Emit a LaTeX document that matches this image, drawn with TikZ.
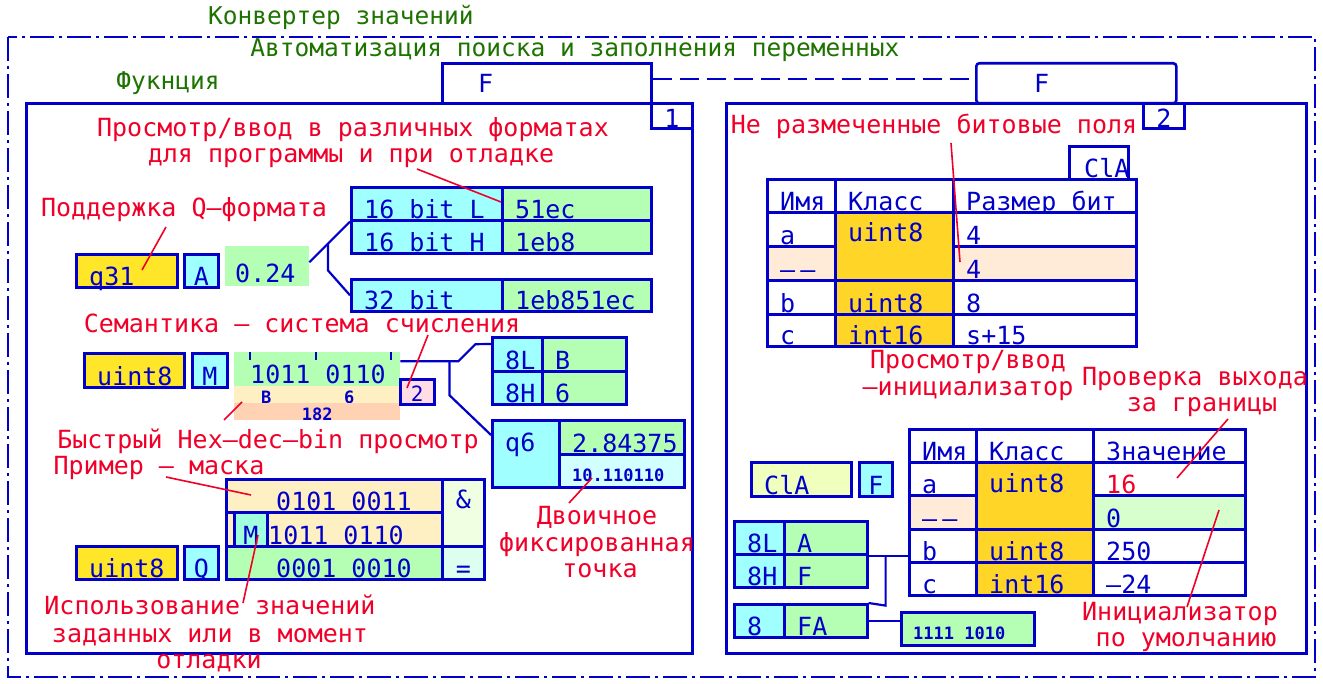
\documentclass[tikz,border=0pt]{standalone}
\usepackage{fontspec}
\newfontfamily\cadfont{DejaVu Sans Mono}
\usetikzlibrary{calc}

\definecolor{lblue}{RGB}{0,0,200}
\definecolor{lred}{RGB}{240,0,40}
\definecolor{lgreen}{RGB}{30,115,0}
\definecolor{cyanf}{RGB}{160,255,255}
\definecolor{greenf}{RGB}{180,255,180}
\definecolor{yellowf}{RGB}{255,230,40}
\definecolor{classf}{RGB}{255,213,40}
\definecolor{creamf}{RGB}{255,240,195}
\definecolor{salmonf}{RGB}{255,210,180}
\definecolor{pinkf}{RGB}{255,220,230}
\definecolor{peachf}{RGB}{255,235,215}
\definecolor{lcyanf}{RGB}{210,255,255}
\definecolor{limef}{RGB}{240,255,190}
\definecolor{mintf}{RGB}{160,255,220}
\definecolor{andf}{RGB}{240,255,225}
\definecolor{eqf}{RGB}{220,255,240}
\definecolor{zerof}{RGB}{215,255,205}

\newcommand{\tfont}{\cadfont\fontsize{25}{30}\selectfont}
\newcommand{\gfont}{\cadfont\fontsize{24.5}{29}\selectfont}
\newcommand{\sfont}{\cadfont\bfseries\fontsize{17}{20}\selectfont}
\newcommand{\mfont}{\cadfont\fontsize{21}{25}\selectfont}

\begin{document}
\begin{tikzpicture}[x=1pt, y=-1pt,
    outerframe/.style={draw=lblue, line width=2.6pt, dash pattern=on 24pt off 5pt on 3pt off 5pt},
    panel/.style={draw=lblue, line width=2.6pt, anchor=north west, inner sep=0pt},
    cell/.style={draw=lblue, line width=2.6pt, fill=#1, anchor=north west, inner sep=0pt},
    cell/.default=white,
    band/.style={fill=#1, draw=none, anchor=north west, inner sep=0pt},
    lt/.style={font=\tfont, text=lblue, inner sep=0pt},
    st/.style={font=\sfont, text=lblue, inner sep=0pt},
    tl/.style={label={[lt, anchor=base west, xshift=14pt, yshift=3pt]south west:#1}},
    tc/.style={label={[lt, anchor=base, yshift=3pt]south:#1}},
    tt/.style={label={[lt, anchor=base west, xshift=14pt, yshift=-31pt]north west:#1}},
    rtxt/.style={font=\tfont, text=lred, anchor=base, inner sep=0pt},
    gtxt/.style={font=\gfont, text=lgreen, anchor=base, inner sep=0pt},
    conn/.style={draw=lblue, line width=2.2pt},
    binmark/.style={draw=lblue, line width=2pt},
    lead/.style={draw=lred, line width=1.6pt},
]

\fill[white] (0,0) rectangle (1323,684);
\useasboundingbox (0,0) rectangle (1323,684);

% Frame and titles
\draw[outerframe] (8,37) rectangle (1315,677);
\node[gtxt] (title) at (341,25) {Конвертер значений};
\node[gtxt] (subtitle) at (575,57) {Автоматизация поиска и заполнения переменных};
\node[gtxt] (funcname) at (168,90) {Фукнция};

% Panels with tabs
\node[panel, minimum width=666, minimum height=550] (panA) at (25,102) {};
\node[panel, minimum width=580, minimum height=550] (panB) at (725,102) {};
\node[cell, minimum width=209, minimum height=40,
      label={[lt, anchor=base west, xshift=37pt, yshift=12pt]south west:F}] (tabA) at (441,62) {};
\node[cell, rounded corners=3pt, minimum width=200, minimum height=40,
      label={[lt, anchor=base west, xshift=59pt, yshift=12pt]south west:F}] (tabB) at (975,62) {};
\node[cell, minimum width=41, minimum height=25, label={[lt, anchor=base, yshift=2pt]south:1}] (numA) at (650,102) {};
\node[cell, minimum width=41, minimum height=25, label={[lt, anchor=base, yshift=2pt]south:2}] (numB) at (1142,102) {};
\draw[conn, line width=2.4pt, dash pattern=on 19pt off 8pt] ([yshift=4pt]tabA.east) -- ([yshift=4pt]tabB.west);

% Left panel: formats
\node[cell=cyanf, minimum width=151, minimum height=33, tl=16 bit L] (bitL) at (350,186) {};
\node[cell=greenf, minimum width=149, minimum height=33, tl=51ec] (hexL) at (501,186) {};
\node[cell=cyanf, minimum width=151, minimum height=33, tl=16 bit H] (bitH) at (350,219) {};
\node[cell=greenf, minimum width=149, minimum height=33, tl=1eb8] (hexH) at (501,219) {};
\node[cell=cyanf, minimum width=151, minimum height=32, tl=32 bit] (bit32) at (350,278) {};
\node[cell=greenf, minimum width=149, minimum height=32, tl=1eb851ec] (hex32) at (501,278) {};

\node[cell=yellowf, minimum width=101, minimum height=33, tl=q31] (fmtQ) at (75,253) {};
\node[cell=cyanf, minimum width=34, minimum height=33, tc=A] (modeA) at (183,253) {};
\node[band=greenf, minimum width=84, minimum height=40,
      label={[lt, anchor=base west, xshift=10pt, yshift=4pt]south west:0.24}] (val) at (225,246) {};

\draw[conn] ([yshift=4pt]val.east) -- (bitL.south west);
\draw[conn] ($([yshift=4pt]val.east)!0.46!(bitL.south west)$) -- ++(0,27) -- (bit32.west);

% Left panel: number system
\node[cell=yellowf, minimum width=100, minimum height=34, tl=uint8] (fmtU) at (83,352) {};
\node[cell=cyanf, minimum width=35, minimum height=34, tc=M] (modeM) at (191,352) {};
\node[band=greenf, minimum width=166, minimum height=34,
      label={[lt, anchor=base west, xshift=16pt, yshift=3pt]south west:1011 0110}] (bin) at (234,352) {};
\foreach \tx in {16,82,157}
  \draw[binmark] ([xshift=\tx pt]bin.north west) -- ++(0,8);
\node[band=creamf, minimum width=166, minimum height=17,
      label={[st, anchor=base west, xshift=27pt, yshift=0pt]south west:B},
      label={[st, anchor=base west, xshift=110pt, yshift=0pt]south west:6}] (hexrow) at (234,386) {};
\node[band=salmonf, minimum width=166, minimum height=17,
      label={[st, anchor=base, yshift=0pt]south:182}] (decrow) at (234,403) {};
\node[cell=pinkf, minimum width=34, minimum height=25,
      label={[lt, font=\mfont, anchor=base, yshift=4pt]south:2}] (radix) at (399,378) {};

\node[cell=cyanf, minimum width=50, minimum height=34, tl=8L] (lo8) at (491,336) {};
\node[cell=greenf, minimum width=84, minimum height=34, tl=B] (lo8v) at (541,336) {};
\node[cell=cyanf, minimum width=50, minimum height=33, tl=8H] (hi8) at (491,370) {};
\node[cell=greenf, minimum width=84, minimum height=33, tl=6] (hi8v) at (541,370) {};

\node[cell=cyanf, minimum width=67, minimum height=67,
      label={[lt, anchor=base west, xshift=14pt, yshift=-32pt]north west:q6}] (fixq) at (491,419) {};
\node[cell=greenf, minimum width=125, minimum height=34, tl=2.84375] (fixv) at (558,419) {};
\node[cell=lcyanf, minimum width=125, minimum height=33,
      label={[st, anchor=base west, xshift=14pt, yshift=7pt]south west:10.110110}] (fixb) at (558,453) {};

\draw[conn] ([yshift=8pt]bin.east) -- ++(58,0) coordinate (semJ) -- ++(17,-17) -- ([yshift=-8pt]lo8.north west);
\draw[conn] ($(semJ)+(-9,0)$) -- ++(0,34) -- ([yshift=-16pt]fixq.north west);

% Left panel: mask
\node[cell=creamf, minimum width=216, minimum height=33,
      label={[lt, anchor=base west, xshift=51pt, yshift=3pt]south west:0101 0011}] (mask1) at (225,478) {};
\node[cell=creamf, minimum width=216, minimum height=34,
      label={[lt, anchor=base west, xshift=43pt, yshift=3pt]south west:1011 0110}] (mask2) at (225,511) {};
\node[cell=mintf, minimum width=33, minimum height=34, tc=M] (maskM) at (233,511) {};
\node[cell=greenf, minimum width=216, minimum height=33,
      label={[lt, anchor=base west, xshift=51pt, yshift=3pt]south west:0001 0010}] (mask3) at (225,545) {};
\node[cell=andf, minimum width=42, minimum height=67,
      label={[lt, anchor=base, yshift=-30pt]north:\&}] (opAnd) at (441,478) {};
\node[cell=eqf, minimum width=42, minimum height=33, tc={=}] (opEq) at (441,545) {};
\node[cell=yellowf, minimum width=101, minimum height=33, tl=uint8] (fmtU2) at (75,545) {};
\node[cell=cyanf, minimum width=34, minimum height=33, tc=Q] (modeQ) at (183,545) {};

% Left panel: notes
\node[rtxt] (noteFmt1) at (353,137) {Просмотр/ввод в различных форматах};
\node[rtxt] (noteFmt2) at (351,163) {для программы и при отладке};
\node[rtxt] (noteQ) at (184,217) {Поддержка Q–формата};
\node[rtxt] (noteSem) at (302,333) {Семантика – система счисления};
\node[rtxt] (noteHex) at (268,449) {Быстрый Hex–dec–bin просмотр};
\node[rtxt] (noteMask) at (159,475) {Пример – маска};
\node[rtxt] (noteUse1) at (210,614) {Использование значений};
\node[rtxt] (noteUse2) at (210,642) {заданных или в момент};
\node[rtxt] (noteUse3) at (209,668) {отладки};
\node[rtxt] (noteFix1) at (597,524) {Двоичное};
\node[rtxt] (noteFix2) at (597,551) {фиксированная};
\node[rtxt] (noteFix3) at (600,577) {точка};

% Right panel: bit fields
\node[rtxt] (noteBits) at (934,134) {Не размеченные битовые поля};
\node[cell, minimum width=59, minimum height=33,
      label={[lt, anchor=base west, xshift=16pt, yshift=3pt]south west:ClA}] (clsTag) at (1068,145) {};

\node[cell, minimum width=68, minimum height=33, tl=Имя] (nm0) at (766,178) {};
\node[cell, minimum width=118, minimum height=33, tl=Класс] (cl0) at (834,178) {};
\node[cell, minimum width=183, minimum height=33, tl=Размер бит] (sz0) at (952,178) {};
\node[cell, minimum width=68, minimum height=34, tl=a] (nm1) at (766,211) {};
\node[cell=classf, minimum width=118, minimum height=68, tt=uint8] (cl1) at (834,211) {};
\node[cell, minimum width=183, minimum height=34, tl=4] (sz1) at (952,211) {};
\node[cell=peachf, minimum width=68, minimum height=34, tl=–\kern5pt–] (nm2) at (766,245) {};
\node[cell=peachf, minimum width=183, minimum height=34, tl=4] (sz2) at (952,245) {};
\node[cell, minimum width=68, minimum height=34, tl=b] (nm3) at (766,279) {};
\node[cell=classf, minimum width=118, minimum height=34, tl=uint8] (cl3) at (834,279) {};
\node[cell, minimum width=183, minimum height=34, tl=8] (sz3) at (952,279) {};
\node[cell, minimum width=68, minimum height=32, tl=c] (nm4) at (766,313) {};
\node[cell=classf, minimum width=118, minimum height=32, tl=int16] (cl4) at (834,313) {};
\node[cell, minimum width=183, minimum height=32, tl=s+15] (sz4) at (952,313) {};

% Right panel: initializer
\node[rtxt] (noteView1) at (968,369) {Просмотр/ввод};
\node[rtxt] (noteView2) at (968,396) {–инициализатор};
\node[rtxt] (noteRange1) at (1195,386) {Проверка выхода};
\node[rtxt] (noteRange2) at (1202,412) {за границы};
\node[rtxt] (noteInit1) at (1180,620) {Инициализатор};
\node[rtxt] (noteInit2) at (1186,646) {по умолчанию};

\node[cell, minimum width=67, minimum height=33, tl=Имя] (nmB0) at (908,428) {};
\node[cell, minimum width=117, minimum height=33, tl=Класс] (clB0) at (975,428) {};
\node[cell, minimum width=152, minimum height=33, tl=Значение] (val0) at (1092,428) {};
\node[cell, minimum width=67, minimum height=33, tl=a] (nmB1) at (908,461) {};
\node[cell=classf, minimum width=117, minimum height=67, tt=uint8] (clB1) at (975,461) {};
\node[cell, minimum width=152, minimum height=33,
      label={[lt, text=lred, anchor=base west, xshift=14pt, yshift=3pt]south west:16}] (val1) at (1092,461) {};
\node[cell=peachf, minimum width=67, minimum height=34, tl=–\kern5pt–] (nmB2) at (908,494) {};
\node[cell=zerof, minimum width=152, minimum height=34, tl=0] (val2) at (1092,494) {};
\node[cell, minimum width=67, minimum height=33, tl=b] (nmB3) at (908,528) {};
\node[cell=classf, minimum width=117, minimum height=33, tl=uint8] (clB3) at (975,528) {};
\node[cell, minimum width=152, minimum height=33, tl=250] (val3) at (1092,528) {};
\node[cell, minimum width=67, minimum height=33, tl=c] (nmB4) at (908,561) {};
\node[cell=classf, minimum width=117, minimum height=33, tl=int16] (clB4) at (975,561) {};
\node[cell, minimum width=152, minimum height=33, tl=–24] (val4) at (1092,561) {};

\node[cell=limef, minimum width=100, minimum height=34, tl=ClA] (clsVar) at (750,461) {};
\node[cell=cyanf, minimum width=33, minimum height=34, tc=F] (modeF) at (858,461) {};

\node[cell=cyanf, minimum width=50, minimum height=33, tl=8L] (rlo8) at (733,520) {};
\node[cell=greenf, minimum width=83, minimum height=33, tl=A] (rlo8v) at (783,520) {};
\node[cell=cyanf, minimum width=50, minimum height=33, tl=8H] (rhi8) at (733,553) {};
\node[cell=greenf, minimum width=83, minimum height=33, tl=F] (rhi8v) at (783,553) {};
\node[cell=cyanf, minimum width=50, minimum height=33, tl=8] (rw8) at (733,603) {};
\node[cell=greenf, minimum width=83, minimum height=33, tl=FA] (rw8v) at (783,603) {};
\node[cell=greenf, minimum width=133, minimum height=33,
      label={[st, anchor=base west, xshift=13pt, yshift=7pt]south west:1111 1010}] (rbits) at (900,611) {};

\draw[conn] (rlo8v.south east) -- (rlo8v.south east -| nmB3.west);
\draw[conn] ($(rlo8v.south east)+(17,0)$) -- ++(0,50) -- (rw8v.north east);
\draw[conn] (rw8v.east) -- (rw8v.east -| rbits.west);

% Leader lines
\coordinate (tipFmt) at (417,169);
\coordinate (tipQ) at (166,227);
\coordinate (tipSem) at (428,335);
\coordinate (tipHex) at (224,420);
\coordinate (tipMask) at (166,477);
\coordinate (tipUse) at (243,603);
\coordinate (tipFix) at (569,503);
\coordinate (tipBits) at (951,143);
\coordinate (tipRange) at (1228,419);
\coordinate (tipInit) at (1187,607);

\draw[lead] (tipFmt) -- ([yshift=-16pt]hexL.north west);
\draw[lead] (tipQ) -- ([shift={(67,17)}]fmtQ.north west);
\draw[lead] (tipSem) -- ([shift={(8,10)}]radix.north west);
\draw[lead] ([shift={(8,16)}]hexrow.north west) -- (tipHex);
\draw[lead] (tipMask) -- ([shift={(26,17)}]mask1.north west);
\draw[lead] ([shift={(25,24)}]maskM.north west) -- (tipUse);
\draw[lead] ([shift={(34,25)}]fixb.north west) -- (tipFix);
\draw[lead] (tipBits) -- ([shift={(8,17)}]sz2.north west);
\draw[lead] (tipRange) -- ([shift={(85,17)}]val1.north west);
\draw[lead] ([shift={(127,16)}]val2.north west) -- (tipInit);

\end{tikzpicture}
\end{document}
